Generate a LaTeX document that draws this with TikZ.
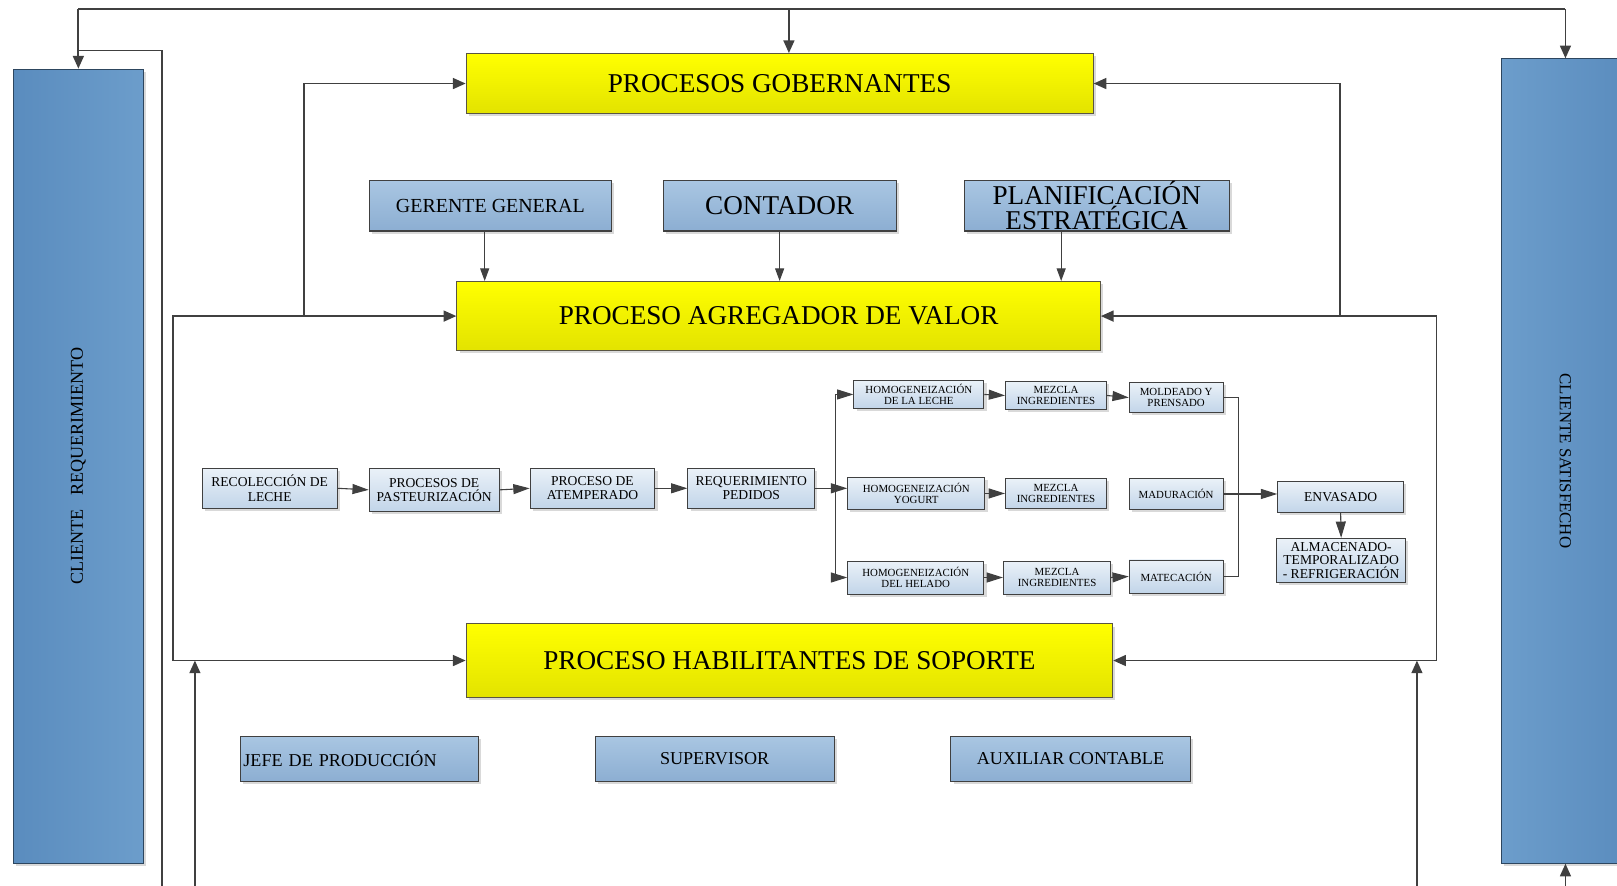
\documentclass[tikz,border=0pt]{standalone}
\usepackage{fontspec}
\setmainfont{Liberation Serif}
\usetikzlibrary{arrows.meta, positioning, calc, shadows}

\definecolor{linegray}{HTML}{404040}
\definecolor{yelTop}{HTML}{FFFF00}
\definecolor{yelBot}{HTML}{E3E300}
\definecolor{bluTop}{HTML}{A9C6E2}
\definecolor{bluBot}{HTML}{8CAED2}
\definecolor{sideDark}{HTML}{5A8CBE}
\definecolor{sideLight}{HTML}{6C9DCB}
\definecolor{pasTop}{HTML}{EAF1F8}
\definecolor{pasBot}{HTML}{C2D5E9}

\begin{document}
\begin{tikzpicture}[x=0.02cm, y=-0.02cm,
    shadebox/.style={draw=linegray, line width=0.6pt, inner sep=0pt, align=center,
        drop shadow={shadow xshift=1.5pt, shadow yshift=-1.5pt, fill=black!15, opacity=1}},
    side/.style={shadebox, draw=sideDark!50!black, font=\fontsize{10}{12}\selectfont},
    proc/.style={shadebox, top color=yelTop, bottom color=yelBot, draw=yellow!25!black, font=\fontsize{15}{17}\selectfont},
    role/.style={shadebox, top color=bluTop, bottom color=bluBot},
    task/.style={shadebox, top color=pasTop, bottom color=pasBot, line width=0.5pt},
    link/.style={line width=1pt, draw=linegray},
    arr/.style={link, -{Triangle[length=7pt, width=6pt]}},
    thinarr/.style={line width=0.6pt, draw=linegray, -{Triangle[length=7pt, width=5pt]}},
    slink/.style={line width=0.6pt, draw=linegray},
    sarr/.style={slink, -{Triangle[length=9pt, width=5.5pt]}}]
    \useasboundingbox (0, 0) rectangle (1568, 859);
    \clip (0, 0) rectangle (1568, 859);

    %Clientes
    \node at (76, 452) [side, rotate=90, left color=sideDark, right color=sideLight, minimum width=15.4cm, minimum height=2.52cm] (cliReq) {CLIENTE~~~REQUERIMIENTO};
    \node at (1518, 447) [side, rotate=-90, left color=sideLight, right color=sideDark, minimum width=15.6cm, minimum height=2.48cm, font=\fontsize{9.3}{11}\selectfont] (cliSat) {CLIENTE SATISFECHO};

    %Procesos
    \node at (756, 81) [proc, minimum width=12.16cm, minimum height=1.16cm] (gob) {PROCESOS GOBERNANTES};
    \node at (755, 306.5) [proc, minimum width=12.48cm, minimum height=1.34cm] (agr) {PROCESO AGREGADOR DE VALOR};
    \node at (765.5, 640.5) [proc, minimum width=12.54cm, minimum height=1.42cm] (hab) {PROCESO HABILITANTES DE SOPORTE};

    %Cargos
    \node at (475.5, 199.5) [role, minimum width=4.7cm, minimum height=0.98cm, font=\fontsize{11}{13}\selectfont] (ger) {GERENTE GENERAL};
    \node at (756, 199.5) [role, minimum width=4.52cm, minimum height=0.98cm, font=\fontsize{15}{17}\selectfont] (cont) {CONTADOR};
    \node at (1063.5, 199.5) [role, minimum width=5.14cm, minimum height=0.98cm, font=\fontsize{15}{14}\selectfont] (plan) {PLANIFICACIÓN\\ESTRATÉGICA};

    \node at (348.5, 736) [role, minimum width=4.62cm, minimum height=0.88cm, text width=4.5cm, align=left, font=\fontsize{10}{12}\selectfont] (jefe) {JEFE DE PRODUCCIÓN};
    \node at (693, 736) [role, minimum width=4.64cm, minimum height=0.88cm, font=\fontsize{10}{12}\selectfont] (sup) {SUPERVISOR};
    \node at (1038, 736) [role, minimum width=4.64cm, minimum height=0.88cm, font=\fontsize{10}{12}\selectfont] (aux) {AUXILIAR CONTABLE};

    %Flujo de produccion
    \begin{scope}[every node/.append style={font=\fontsize{7.5}{8}\selectfont}]
    \node at (261.5, 473.5) [task, minimum width=2.62cm, minimum height=0.78cm] (rec) {RECOLECCIÓN DE\\LECHE};
    \node at (421, 475) [task, minimum width=2.52cm, minimum height=0.84cm] (pas) {PROCESOS DE\\PASTEURIZACIÓN};
    \node at (574.5, 473.5) [task, minimum width=2.42cm, minimum height=0.78cm] (ate) {PROCESO DE\\ATEMPERADO};
    \node at (728.5, 473.5) [task, minimum width=2.46cm, minimum height=0.78cm] (req) {REQUERIMIENTO\\PEDIDOS};
    \node at (1300, 482) [task, minimum width=2.44cm, minimum height=0.6cm] (env) {ENVASADO};
    \node at (1300.5, 543.5) [task, minimum width=2.5cm, minimum height=0.86cm, font=\fontsize{7.5}{7.5}\selectfont] (alm) {ALMACENADO-\\TEMPORALIZADO\\- REFRIGERACIÓN};
    \end{scope}

    \begin{scope}[every node/.append style={font=\fontsize{6}{6}\selectfont}]
    \node at (891, 382.5) [task, minimum width=2.52cm, minimum height=0.54cm] (hleche) {HOMOGENEIZACIÓN\\DE LA LECHE};
    \node at (1024, 383.5) [task, minimum width=1.96cm, minimum height=0.54cm] (mez1) {MEZCLA\\INGREDIENTES};
    \node at (1140.5, 385.5) [task, minimum width=1.82cm, minimum height=0.58cm] (mold) {MOLDEADO Y\\PRENSADO};
    \node at (888.5, 478.5) [task, minimum width=2.66cm, minimum height=0.62cm] (hyog) {HOMOGENEIZACIÓN\\YOGURT};
    \node at (1024, 478.5) [task, minimum width=1.96cm, minimum height=0.58cm] (mez2) {MEZCLA\\INGREDIENTES};
    \node at (1140.5, 479) [task, minimum width=1.82cm, minimum height=0.6cm] (mad) {MADURACIÓN};
    \node at (888, 560) [task, minimum width=2.64cm, minimum height=0.64cm] (hhel) {HOMOGENEIZACIÓN\\DEL HELADO};
    \node at (1025, 560) [task, minimum width=2.08cm, minimum height=0.64cm] (mez3) {MEZCLA\\INGREDIENTES};
    \node at (1140.5, 559) [task, minimum width=1.82cm, minimum height=0.64cm] (mat) {MATECACIÓN};
    \end{scope}

    %Conectores superiores
    \coordinate (topL) at (76, 9);
    \coordinate (topM) at (765, 9);
    \coordinate (topR) at (1518, 9);
    \coordinate (innL) at (76, 49);
    \coordinate (innB) at (157, 880);
    \draw[link] (topL) -- (topR);
    \draw[arr] (topL) -- (cliReq.east);
    \draw[arr] (topM) -- (topM |- gob.north);
    \draw[arr] (topR) -- (cliSat.west);
    \draw[link] (innL) -| (innB);

    %Marco
    \coordinate (frTL) at (168, 306.5);
    \coordinate (frBL) at (168, 640.5);
    \coordinate (frTR) at (1393, 306.5);
    \coordinate (frBR) at (1393, 640.5);
    \coordinate (jL) at (295, 306.5);
    \coordinate (jR) at (1299, 306.5);
    \draw[arr] (frBL) -- (frTL) -- (agr.west);
    \draw[arr] (frTL) -- (frBL) -- (hab.west);
    \draw[arr] (jL) |- (gob.west);
    \draw[arr] (frBR) -- (frTR) -- (agr.east);
    \draw[arr] (frTR) -- (frBR) -- (hab.east);
    \draw[arr] (jR) |- (gob.east);

    %Conectores inferiores
    \coordinate (botL) at (189, 880);
    \coordinate (botR) at (1374, 880);
    \coordinate (botS) at (1518, 880);
    \draw[arr] (botL) -- (botL |- frBL);
    \draw[arr] (botR) -- (botR |- frBR);
    \draw[arr] (botS) -- (cliSat.east);

    %Cargos a proceso
    \draw[thinarr] ([xshift=-0.11cm]ger.south) -- ([xshift=-0.11cm]ger.south |- agr.north);
    \draw[thinarr] (cont.south) -- (cont.south |- agr.north);
    \draw[thinarr] ([xshift=-0.69cm]plan.south) -- ([xshift=-0.69cm]plan.south |- agr.north);

    %Flujo
    \draw[sarr] (rec.east) -- (pas.west);
    \draw[sarr] (pas.east) -- (ate.west);
    \draw[sarr] (ate.east) -- (req.west);

    \coordinate (brT) at (810, 382.5);
    \coordinate (brB) at (810, 560);
    \draw[slink] (brT) -- (brB);
    \draw[sarr] (brT) -- (hleche.west);
    \draw[sarr] (req.east) -- (req.east -| hyog.west);
    \draw[sarr] (brB) -- (hhel.west);

    \draw[sarr] (hleche.east) -- (mez1.west);
    \draw[sarr] (mez1.east) -- (mold.west);
    \draw[sarr] (hyog.east) -- (mez2.west);
    \draw[sarr] (hhel.east) -- (mez3.west);
    \draw[sarr] (mez3.east) -- (mat.west);

    \coordinate (colT) at (1201, 385.5);
    \coordinate (colB) at (1201, 559);
    \draw[slink] (mold.east) -- (colT) -- (colB) -- (mat.east);
    \draw[sarr] (mad.east) -- (mad.east -| env.west);
    \draw[sarr] (env.south) -- (alm.north);
\end{tikzpicture}
\end{document}
